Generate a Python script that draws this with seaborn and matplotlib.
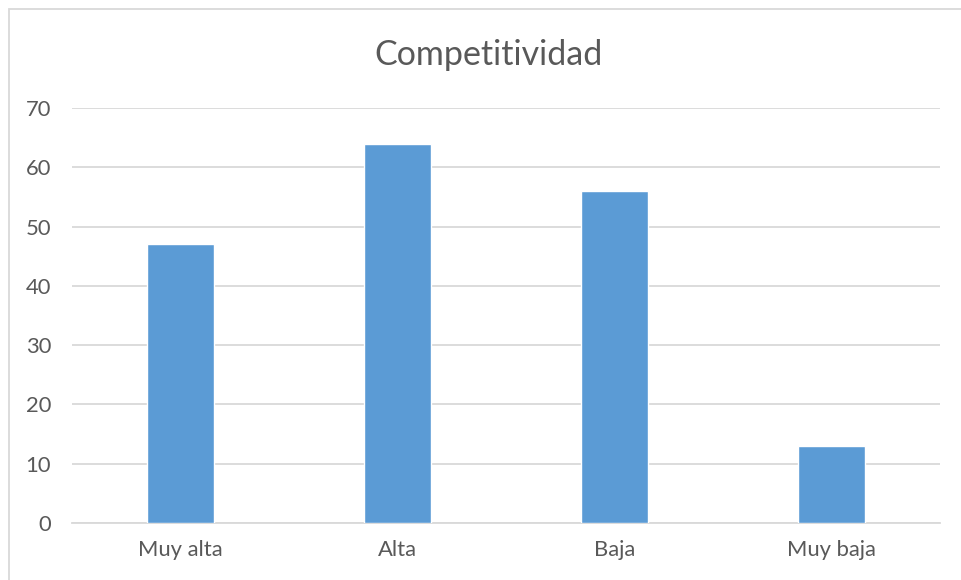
import matplotlib
matplotlib.use("Agg")
import matplotlib.pyplot as plt
import seaborn as sns
import pandas as pd
from matplotlib.patches import Rectangle

categorias = ["Muy alta", "Alta", "Baja", "Muy baja"]
valores = [47, 64, 56, 13]
yticks = [0, 10, 20, 30, 40, 50, 60, 70]

sns.set_style("white")
plt.rcParams["font.family"] = ["Lato", "DejaVu Sans"]

df = pd.DataFrame({"categoria": categorias, "valor": valores})

fig = plt.figure(figsize=(9.61, 5.8), dpi=100)
ax = fig.add_axes([0.0749, 0.0983, 0.9032, 0.7155])

sns.barplot(data=df, x="categoria", y="valor", color="#5B9BD5",
            width=0.31, saturation=1, ax=ax, zorder=3)

ax.set_ylim(0, 70)
ax.set_xlim(-0.5, 3.5)
ax.set_yticks(yticks)
ax.yaxis.grid(True, color="#D9D9D9", linewidth=1.3, zorder=0)
ax.set_axisbelow(True)
for s in ["top", "right", "left"]:
    ax.spines[s].set_visible(False)
ax.spines["bottom"].set_color("#D9D9D9")
ax.spines["bottom"].set_linewidth(1.3)
ax.tick_params(axis="both", length=0, labelsize=15.8, labelcolor="#595959")
ax.tick_params(axis="y", pad=15)
ax.tick_params(axis="x", pad=12)
ax.set_xlabel("")
ax.set_ylabel("")

fig.text(0.5085, 0.905, "Competitividad", ha="center", va="center",
         fontsize=24.5, color="#595959")

# chart area frame
fig.patches.append(Rectangle((8.5 / 961, -0.1), 1.2, 1 - 8.5 / 580 + 0.1,
                             transform=fig.transFigure, fill=False,
                             edgecolor="#D9D9D9", linewidth=1.3))

fig.savefig("out.png", dpi=100)
